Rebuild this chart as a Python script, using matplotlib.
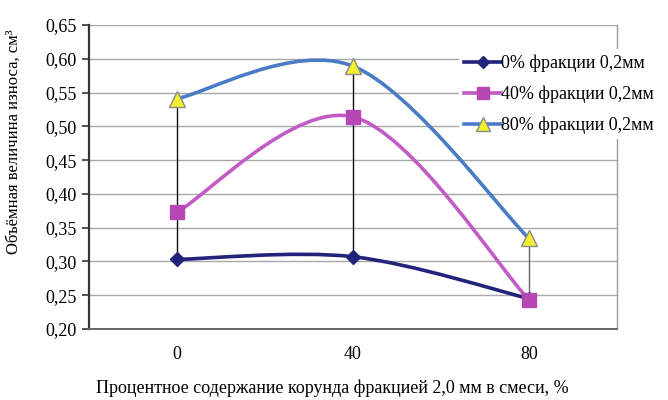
import matplotlib
matplotlib.use("Agg")
import matplotlib.pyplot as plt
from matplotlib.path import Path
from matplotlib.patches import PathPatch
from matplotlib.lines import Line2D
import numpy as np

categories = ["0", "40", "80"]
series_names = ["0% фракции 0,2мм", "40% фракции 0,2мм", "80% фракции 0,2мм"]
s0 = [0.303, 0.307, 0.245]
s40 = [0.373, 0.514, 0.243]
s80 = [0.541, 0.589, 0.334]
yticks = [0.20, 0.25, 0.30, 0.35, 0.40, 0.45, 0.50, 0.55, 0.60, 0.65]
ytick_labels = ["0,20", "0,25", "0,30", "0,35", "0,40", "0,45", "0,50", "0,55", "0,60", "0,65"]

plt.rcParams['font.family'] = ['Liberation Serif', 'DejaVu Serif']

fig = plt.figure(figsize=(6.68, 4.0), dpi=100)
ax = fig.add_axes([89/668, 1 - 329/400, (617 - 89)/668, (329 - 25)/400])

x = np.arange(len(categories))

def smooth_path(xs, ys):
    pts = np.column_stack([xs, ys]).astype(float)
    n = len(pts)
    verts = [pts[0]]
    codes = [Path.MOVETO]
    for i in range(n - 1):
        p_prev = pts[i - 1] if i > 0 else pts[i]
        p_next2 = pts[i + 2] if i + 2 < n else pts[i + 1]
        c1 = pts[i] + (pts[i + 1] - p_prev) / 6.0
        c2 = pts[i + 1] - (p_next2 - pts[i]) / 6.0
        verts += [c1, c2, pts[i + 1]]
        codes += [Path.CURVE4] * 3
    return Path(verts, codes)

styles = [
    dict(color="#22237a", marker="D", ms=7, mfc="#22237a", mec="#22237a"),
    dict(color="#c25cc4", marker="s", ms=10, mfc="#b548b5", mec="#b548b5"),
    dict(color="#4a7cc6", marker="^", ms=11, mfc="#f4f030", mec="#8a8a8a"),
]
data = [s0, s40, s80]

# high-low lines
all_vals = np.array(data)
lows = all_vals.min(axis=0)
highs = all_vals.max(axis=0)
hl_colors = ["#111111", "#111111", "#666666"]
for i in range(len(categories)):
    ax.vlines(x[i], lows[i], highs[i], colors=hl_colors[i], linewidth=1.0, zorder=2)

handles = []
for ys, st, name in zip(data, styles, series_names):
    patch = PathPatch(smooth_path(x, ys), facecolor="none", edgecolor=st["color"],
                      linewidth=2.6, zorder=3, capstyle="round")
    ax.add_patch(patch)
    ax.plot(x, ys, linestyle="none", marker=st["marker"], ms=st["ms"],
            markerfacecolor=st["mfc"], markeredgecolor=st["mec"], zorder=4)
    handles.append(Line2D([0], [0], color=st["color"], linewidth=2.6,
                          marker=st["marker"], ms=st["ms"] * 0.9,
                          markerfacecolor=st["mfc"], markeredgecolor=st["mec"]))

ax.set_xlim(-0.5, len(categories) - 0.5)
ax.set_ylim(0.20, 0.65)
ax.set_yticks(yticks)
ax.set_yticklabels(ytick_labels, fontsize=13)
ax.set_xticks(x)
ax.set_xticklabels(categories, fontsize=13)
ax.tick_params(axis="x", length=0, pad=12)
ax.tick_params(axis="y", length=5, width=1.2, color="#333333", pad=4, direction="out")

ax.grid(axis="y", color="#a8a8a8", linewidth=1.0)
ax.set_axisbelow(True)
ax.spines["top"].set_visible(False)
ax.spines["right"].set_color("#a09a98")
ax.spines["right"].set_linewidth(1.0)
ax.spines["left"].set_color("#333333")
ax.spines["left"].set_linewidth(1.6)
ax.spines["bottom"].set_color("#666666")
ax.spines["bottom"].set_linewidth(1.4)

ax.set_ylabel("Объёмная величина износа, см³", fontsize=12)
ax.yaxis.set_label_coords(-0.128, 0.615)
ax.set_xlabel("Процентное содержание корунда фракцией 2,0 мм в смеси, %", fontsize=13)
ax.xaxis.set_label_coords(0.46, -0.165)

leg = ax.legend(handles, series_names, loc="upper left", bbox_to_anchor=(450/668, 1 - 40/400),
                bbox_transform=fig.transFigure, frameon=True, fontsize=13,
                handlelength=2.0, handletextpad=0.0, labelspacing=0.75, borderpad=0.3)
leg.get_frame().set_edgecolor("none")
leg.get_frame().set_facecolor("white")
leg.get_frame().set_alpha(1.0)

fig.savefig("out.png", dpi=100, facecolor="white")
